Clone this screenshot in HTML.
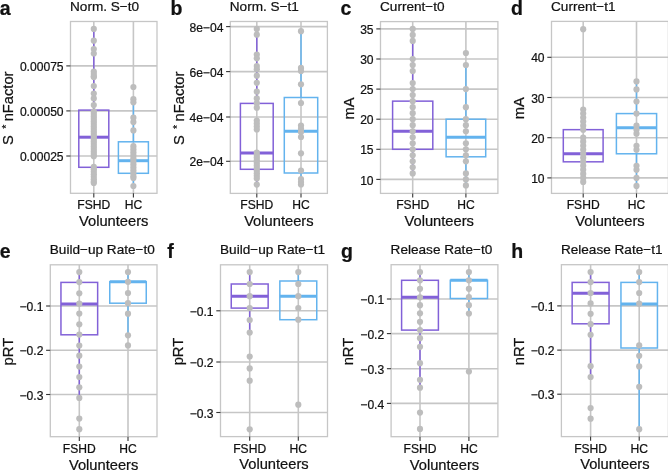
<!DOCTYPE html>
<html><head><meta charset="utf-8"><title>Figure</title>
<style>
html,body{margin:0;padding:0;background:#fff;}
body{width:668px;height:470px;overflow:hidden;}
svg{display:block;filter:blur(0.3px);}
text{font-family:"Liberation Sans",sans-serif;fill:#111111;stroke:#111;stroke-width:0.22px;}
circle{fill:#bdbdbd;}
</style></head><body>
<svg width="668" height="470" viewBox="0 0 668 470">
<rect width="668" height="470" fill="#fff"/>
<line x1="70.5" y1="65.9" x2="157" y2="65.9" stroke="#c6c6c6" stroke-width="1.6"/>
<line x1="70.5" y1="110.9" x2="157" y2="110.9" stroke="#c6c6c6" stroke-width="1.6"/>
<line x1="70.5" y1="156" x2="157" y2="156" stroke="#c6c6c6" stroke-width="1.6"/>
<line x1="93.8" y1="21.5" x2="93.8" y2="193.3" stroke="#c6c6c6" stroke-width="1.6"/>
<line x1="133.4" y1="21.5" x2="133.4" y2="193.3" stroke="#c6c6c6" stroke-width="1.6"/>
<line x1="93.8" y1="28.9" x2="93.8" y2="110.1" stroke="#8261d8" stroke-width="1.5"/>
<line x1="93.8" y1="167.3" x2="93.8" y2="183" stroke="#8261d8" stroke-width="1.5"/>
<rect x="78.8" y="110.1" width="30" height="57.2" fill="none" stroke="#8261d8" stroke-width="1.5"/>
<line x1="78.8" y1="137.2" x2="108.8" y2="137.2" stroke="#8261d8" stroke-width="3.0"/>
<line x1="133.4" y1="102.3" x2="133.4" y2="141.8" stroke="#63b3ee" stroke-width="1.5"/>
<line x1="133.4" y1="173.3" x2="133.4" y2="186" stroke="#63b3ee" stroke-width="1.5"/>
<rect x="118.4" y="141.8" width="30" height="31.5" fill="none" stroke="#63b3ee" stroke-width="1.5"/>
<line x1="118.4" y1="160.7" x2="148.4" y2="160.7" stroke="#63b3ee" stroke-width="3.0"/>
<circle cx="93.8" cy="28.9" r="3.1"/>
<circle cx="93.8" cy="40.7" r="3.1"/>
<circle cx="93.8" cy="49.1" r="3.1"/>
<circle cx="93.8" cy="53.5" r="3.1"/>
<circle cx="93.8" cy="71.5" r="3.1"/>
<circle cx="93.8" cy="74" r="3.1"/>
<circle cx="93.8" cy="76.5" r="3.1"/>
<circle cx="93.8" cy="77" r="3.1"/>
<circle cx="93.8" cy="86" r="3.1"/>
<circle cx="93.8" cy="93.6" r="3.1"/>
<circle cx="93.8" cy="98.4" r="3.1"/>
<circle cx="93.8" cy="105.1" r="3.1"/>
<circle cx="93.8" cy="111.4" r="3.1"/>
<circle cx="93.8" cy="113.9" r="3.1"/>
<circle cx="93.8" cy="116.4" r="3.1"/>
<circle cx="93.8" cy="118.9" r="3.1"/>
<circle cx="93.8" cy="121.4" r="3.1"/>
<circle cx="93.8" cy="123.9" r="3.1"/>
<circle cx="93.8" cy="126.4" r="3.1"/>
<circle cx="93.8" cy="128.9" r="3.1"/>
<circle cx="93.8" cy="131.4" r="3.1"/>
<circle cx="93.8" cy="133.9" r="3.1"/>
<circle cx="93.8" cy="136.4" r="3.1"/>
<circle cx="93.8" cy="138.9" r="3.1"/>
<circle cx="93.8" cy="141.4" r="3.1"/>
<circle cx="93.8" cy="143.9" r="3.1"/>
<circle cx="93.8" cy="146.4" r="3.1"/>
<circle cx="93.8" cy="148.9" r="3.1"/>
<circle cx="93.8" cy="151.4" r="3.1"/>
<circle cx="93.8" cy="153.9" r="3.1"/>
<circle cx="93.8" cy="156.2" r="3.1"/>
<circle cx="93.8" cy="166.8" r="3.1"/>
<circle cx="93.8" cy="169.3" r="3.1"/>
<circle cx="93.8" cy="171.8" r="3.1"/>
<circle cx="93.8" cy="174.3" r="3.1"/>
<circle cx="93.8" cy="176.8" r="3.1"/>
<circle cx="93.8" cy="179.3" r="3.1"/>
<circle cx="93.8" cy="181.8" r="3.1"/>
<circle cx="93.8" cy="183" r="3.1"/>
<circle cx="133.4" cy="87" r="3.1"/>
<circle cx="133.4" cy="99.2" r="3.1"/>
<circle cx="133.4" cy="102.3" r="3.1"/>
<circle cx="133.4" cy="117.7" r="3.1"/>
<circle cx="133.4" cy="122.1" r="3.1"/>
<circle cx="133.4" cy="130.4" r="3.1"/>
<circle cx="133.4" cy="146.2" r="3.1"/>
<circle cx="133.4" cy="149.2" r="3.1"/>
<circle cx="133.4" cy="152.2" r="3.1"/>
<circle cx="133.4" cy="155.2" r="3.1"/>
<circle cx="133.4" cy="158.2" r="3.1"/>
<circle cx="133.4" cy="161.2" r="3.1"/>
<circle cx="133.4" cy="164.2" r="3.1"/>
<circle cx="133.4" cy="167.2" r="3.1"/>
<circle cx="133.4" cy="170.2" r="3.1"/>
<circle cx="133.4" cy="173.2" r="3.1"/>
<circle cx="133.4" cy="176.2" r="3.1"/>
<circle cx="133.4" cy="178" r="3.1"/>
<circle cx="133.4" cy="186" r="3.1"/>
<rect x="70.5" y="21.5" width="86.5" height="171.8" fill="none" stroke="#c6c6c6" stroke-width="1.3"/>
<line x1="66.3" y1="65.9" x2="70.5" y2="65.9" stroke="#333333" stroke-width="1.1"/>
<line x1="66.3" y1="110.9" x2="70.5" y2="110.9" stroke="#333333" stroke-width="1.1"/>
<line x1="66.3" y1="156" x2="70.5" y2="156" stroke="#333333" stroke-width="1.1"/>
<line x1="93.8" y1="193.3" x2="93.8" y2="197.5" stroke="#333333" stroke-width="1.1"/>
<line x1="133.4" y1="193.3" x2="133.4" y2="197.5" stroke="#333333" stroke-width="1.1"/>
<text x="63.6" y="71" text-anchor="end" font-size="12.1">0.00075</text>
<text x="63.6" y="116" text-anchor="end" font-size="12.1">0.00050</text>
<text x="63.6" y="161.1" text-anchor="end" font-size="12.1">0.00025</text>
<text x="93.8" y="209.3" text-anchor="middle" font-size="12.1">FSHD</text>
<text x="133.4" y="209.3" text-anchor="middle" font-size="12.1">HC</text>
<text x="113.75" y="226.1" text-anchor="middle" font-size="14.7">Volunteers</text>
<text transform="translate(12.8 108.3) rotate(-90)" text-anchor="middle" font-size="14.7">S <tspan font-size="10.58" dx="2.3" dy="-3.2">*</tspan><tspan dx="-0.7" dy="3.2"> nFactor</tspan></text>
<text x="70" y="10.7" font-size="13.6">Norm. S−t0</text>
<text x="-0.3" y="14.7" font-size="19.5" font-weight="bold">a</text>
<line x1="230.3" y1="26.6" x2="327.4" y2="26.6" stroke="#c6c6c6" stroke-width="1.6"/>
<line x1="230.3" y1="71.6" x2="327.4" y2="71.6" stroke="#c6c6c6" stroke-width="1.6"/>
<line x1="230.3" y1="117" x2="327.4" y2="117" stroke="#c6c6c6" stroke-width="1.6"/>
<line x1="230.3" y1="161.3" x2="327.4" y2="161.3" stroke="#c6c6c6" stroke-width="1.6"/>
<line x1="256.8" y1="21.5" x2="256.8" y2="193.4" stroke="#c6c6c6" stroke-width="1.6"/>
<line x1="301" y1="21.5" x2="301" y2="193.4" stroke="#c6c6c6" stroke-width="1.6"/>
<line x1="256.8" y1="28.9" x2="256.8" y2="103.4" stroke="#8261d8" stroke-width="1.5"/>
<line x1="256.8" y1="169.3" x2="256.8" y2="184.6" stroke="#8261d8" stroke-width="1.5"/>
<rect x="240.4" y="103.4" width="32.8" height="65.9" fill="none" stroke="#8261d8" stroke-width="1.5"/>
<line x1="240.4" y1="153" x2="273.2" y2="153" stroke="#8261d8" stroke-width="3.0"/>
<line x1="301" y1="31.2" x2="301" y2="97.5" stroke="#63b3ee" stroke-width="1.5"/>
<line x1="301" y1="173" x2="301" y2="184.5" stroke="#63b3ee" stroke-width="1.5"/>
<rect x="284.3" y="97.5" width="33.4" height="75.5" fill="none" stroke="#63b3ee" stroke-width="1.5"/>
<line x1="284.3" y1="131.3" x2="317.7" y2="131.3" stroke="#63b3ee" stroke-width="3.0"/>
<circle cx="256.8" cy="28.9" r="3.1"/>
<circle cx="256.8" cy="34.7" r="3.1"/>
<circle cx="256.8" cy="54.5" r="3.1"/>
<circle cx="256.8" cy="58.3" r="3.1"/>
<circle cx="256.8" cy="66" r="3.1"/>
<circle cx="256.8" cy="69.2" r="3.1"/>
<circle cx="256.8" cy="75.7" r="3.1"/>
<circle cx="256.8" cy="82.8" r="3.1"/>
<circle cx="256.8" cy="91.7" r="3.1"/>
<circle cx="256.8" cy="98.4" r="3.1"/>
<circle cx="256.8" cy="103.2" r="3.1"/>
<circle cx="256.8" cy="107.7" r="3.1"/>
<circle cx="256.8" cy="120.5" r="3.1"/>
<circle cx="256.8" cy="123.5" r="3.1"/>
<circle cx="256.8" cy="126.5" r="3.1"/>
<circle cx="256.8" cy="129.5" r="3.1"/>
<circle cx="256.8" cy="152.6" r="3.1"/>
<circle cx="256.8" cy="155" r="3.1"/>
<circle cx="256.8" cy="157.6" r="3.1"/>
<circle cx="256.8" cy="160.2" r="3.1"/>
<circle cx="256.8" cy="162.8" r="3.1"/>
<circle cx="256.8" cy="165.4" r="3.1"/>
<circle cx="256.8" cy="168" r="3.1"/>
<circle cx="256.8" cy="170.6" r="3.1"/>
<circle cx="256.8" cy="173.2" r="3.1"/>
<circle cx="256.8" cy="175.8" r="3.1"/>
<circle cx="256.8" cy="178.4" r="3.1"/>
<circle cx="256.8" cy="184.6" r="3.1"/>
<circle cx="301" cy="31.2" r="3.1"/>
<circle cx="301" cy="67.9" r="3.1"/>
<circle cx="301" cy="70.9" r="3.1"/>
<circle cx="301" cy="84.3" r="3.1"/>
<circle cx="301" cy="103" r="3.1"/>
<circle cx="301" cy="125.6" r="3.1"/>
<circle cx="301" cy="128.7" r="3.1"/>
<circle cx="301" cy="132" r="3.1"/>
<circle cx="301" cy="137" r="3.1"/>
<circle cx="301" cy="153.3" r="3.1"/>
<circle cx="301" cy="170.5" r="3.1"/>
<circle cx="301" cy="179" r="3.1"/>
<circle cx="301" cy="182" r="3.1"/>
<circle cx="301" cy="184.5" r="3.1"/>
<rect x="230.3" y="21.5" width="97.1" height="171.9" fill="none" stroke="#c6c6c6" stroke-width="1.3"/>
<line x1="226.1" y1="26.6" x2="230.3" y2="26.6" stroke="#333333" stroke-width="1.1"/>
<line x1="226.1" y1="71.6" x2="230.3" y2="71.6" stroke="#333333" stroke-width="1.1"/>
<line x1="226.1" y1="117" x2="230.3" y2="117" stroke="#333333" stroke-width="1.1"/>
<line x1="226.1" y1="161.3" x2="230.3" y2="161.3" stroke="#333333" stroke-width="1.1"/>
<line x1="256.8" y1="193.4" x2="256.8" y2="197.6" stroke="#333333" stroke-width="1.1"/>
<line x1="301" y1="193.4" x2="301" y2="197.6" stroke="#333333" stroke-width="1.1"/>
<text x="223.4" y="31.7" text-anchor="end" font-size="12.1">8e−04</text>
<text x="223.4" y="76.7" text-anchor="end" font-size="12.1">6e−04</text>
<text x="223.4" y="122.1" text-anchor="end" font-size="12.1">4e−04</text>
<text x="223.4" y="166.4" text-anchor="end" font-size="12.1">2e−04</text>
<text x="256.8" y="209.4" text-anchor="middle" font-size="12.1">FSHD</text>
<text x="301" y="209.4" text-anchor="middle" font-size="12.1">HC</text>
<text x="278.85" y="226.2" text-anchor="middle" font-size="14.7">Volunteers</text>
<text transform="translate(183.7 108.35) rotate(-90)" text-anchor="middle" font-size="14.7">S <tspan font-size="10.58" dx="2.3" dy="-3.2">*</tspan><tspan dx="-0.7" dy="3.2"> nFactor</tspan></text>
<text x="229.8" y="10.7" font-size="13.6">Norm. S−t1</text>
<text x="170.4" y="14.7" font-size="19.5" font-weight="bold">b</text>
<line x1="380.5" y1="28.9" x2="497.9" y2="28.9" stroke="#c6c6c6" stroke-width="1.6"/>
<line x1="380.5" y1="59" x2="497.9" y2="59" stroke="#c6c6c6" stroke-width="1.6"/>
<line x1="380.5" y1="89.1" x2="497.9" y2="89.1" stroke="#c6c6c6" stroke-width="1.6"/>
<line x1="380.5" y1="119.2" x2="497.9" y2="119.2" stroke="#c6c6c6" stroke-width="1.6"/>
<line x1="380.5" y1="149.3" x2="497.9" y2="149.3" stroke="#c6c6c6" stroke-width="1.6"/>
<line x1="380.5" y1="179.4" x2="497.9" y2="179.4" stroke="#c6c6c6" stroke-width="1.6"/>
<line x1="412.7" y1="21.6" x2="412.7" y2="193.4" stroke="#c6c6c6" stroke-width="1.6"/>
<line x1="465.9" y1="21.6" x2="465.9" y2="193.4" stroke="#c6c6c6" stroke-width="1.6"/>
<line x1="412.7" y1="28.9" x2="412.7" y2="101.14" stroke="#8261d8" stroke-width="1.5"/>
<line x1="412.7" y1="149.3" x2="412.7" y2="173.38" stroke="#8261d8" stroke-width="1.5"/>
<rect x="392.6" y="101.14" width="40.2" height="48.16" fill="none" stroke="#8261d8" stroke-width="1.5"/>
<line x1="392.6" y1="131.24" x2="432.8" y2="131.24" stroke="#8261d8" stroke-width="3.0"/>
<line x1="465.9" y1="65.02" x2="465.9" y2="119.2" stroke="#63b3ee" stroke-width="1.5"/>
<line x1="465.9" y1="156.8" x2="465.9" y2="185.42" stroke="#63b3ee" stroke-width="1.5"/>
<rect x="446.1" y="119.2" width="39.6" height="37.6" fill="none" stroke="#63b3ee" stroke-width="1.5"/>
<line x1="446.1" y1="137.26" x2="485.7" y2="137.26" stroke="#63b3ee" stroke-width="3.0"/>
<circle cx="412.7" cy="28.9" r="3.1"/>
<circle cx="412.7" cy="34.92" r="3.1"/>
<circle cx="412.7" cy="40.94" r="3.1"/>
<circle cx="412.7" cy="59" r="3.1"/>
<circle cx="412.7" cy="65.02" r="3.1"/>
<circle cx="412.7" cy="71.04" r="3.1"/>
<circle cx="412.7" cy="83.08" r="3.1"/>
<circle cx="412.7" cy="89.1" r="3.1"/>
<circle cx="412.7" cy="95.12" r="3.1"/>
<circle cx="412.7" cy="101.14" r="3.1"/>
<circle cx="412.7" cy="107.16" r="3.1"/>
<circle cx="412.7" cy="113.18" r="3.1"/>
<circle cx="412.7" cy="119.2" r="3.1"/>
<circle cx="412.7" cy="125.22" r="3.1"/>
<circle cx="412.7" cy="131.24" r="3.1"/>
<circle cx="412.7" cy="137.26" r="3.1"/>
<circle cx="412.7" cy="143.28" r="3.1"/>
<circle cx="412.7" cy="149.3" r="3.1"/>
<circle cx="412.7" cy="155.32" r="3.1"/>
<circle cx="412.7" cy="161.34" r="3.1"/>
<circle cx="412.7" cy="167.36" r="3.1"/>
<circle cx="412.7" cy="173.38" r="3.1"/>
<circle cx="465.9" cy="52.98" r="3.1"/>
<circle cx="465.9" cy="65.02" r="3.1"/>
<circle cx="465.9" cy="89.1" r="3.1"/>
<circle cx="465.9" cy="107.16" r="3.1"/>
<circle cx="465.9" cy="119.2" r="3.1"/>
<circle cx="465.9" cy="125.22" r="3.1"/>
<circle cx="465.9" cy="131.24" r="3.1"/>
<circle cx="465.9" cy="143.28" r="3.1"/>
<circle cx="465.9" cy="149.3" r="3.1"/>
<circle cx="465.9" cy="155.32" r="3.1"/>
<circle cx="465.9" cy="161.34" r="3.1"/>
<circle cx="465.9" cy="173.38" r="3.1"/>
<circle cx="465.9" cy="179.4" r="3.1"/>
<circle cx="465.9" cy="185.42" r="3.1"/>
<rect x="380.5" y="21.6" width="117.4" height="171.8" fill="none" stroke="#c6c6c6" stroke-width="1.3"/>
<line x1="376.3" y1="28.9" x2="380.5" y2="28.9" stroke="#333333" stroke-width="1.1"/>
<line x1="376.3" y1="59" x2="380.5" y2="59" stroke="#333333" stroke-width="1.1"/>
<line x1="376.3" y1="89.1" x2="380.5" y2="89.1" stroke="#333333" stroke-width="1.1"/>
<line x1="376.3" y1="119.2" x2="380.5" y2="119.2" stroke="#333333" stroke-width="1.1"/>
<line x1="376.3" y1="149.3" x2="380.5" y2="149.3" stroke="#333333" stroke-width="1.1"/>
<line x1="376.3" y1="179.4" x2="380.5" y2="179.4" stroke="#333333" stroke-width="1.1"/>
<line x1="412.7" y1="193.4" x2="412.7" y2="197.6" stroke="#333333" stroke-width="1.1"/>
<line x1="465.9" y1="193.4" x2="465.9" y2="197.6" stroke="#333333" stroke-width="1.1"/>
<text x="373.6" y="34" text-anchor="end" font-size="12.1">35</text>
<text x="373.6" y="64.1" text-anchor="end" font-size="12.1">30</text>
<text x="373.6" y="94.2" text-anchor="end" font-size="12.1">25</text>
<text x="373.6" y="124.3" text-anchor="end" font-size="12.1">20</text>
<text x="373.6" y="154.4" text-anchor="end" font-size="12.1">15</text>
<text x="373.6" y="184.5" text-anchor="end" font-size="12.1">10</text>
<text x="412.7" y="209.4" text-anchor="middle" font-size="12.1">FSHD</text>
<text x="465.9" y="209.4" text-anchor="middle" font-size="12.1">HC</text>
<text x="439.2" y="226.2" text-anchor="middle" font-size="14.7">Volunteers</text>
<text transform="translate(353.8 108.4) rotate(-90)" text-anchor="middle" font-size="14.7">mA</text>
<text x="380" y="10.8" font-size="13.6">Current−t0</text>
<text x="340.5" y="14.7" font-size="19.5" font-weight="bold">c</text>
<line x1="551.5" y1="57.3" x2="668.4" y2="57.3" stroke="#c6c6c6" stroke-width="1.6"/>
<line x1="551.5" y1="97.5" x2="668.4" y2="97.5" stroke="#c6c6c6" stroke-width="1.6"/>
<line x1="551.5" y1="137.7" x2="668.4" y2="137.7" stroke="#c6c6c6" stroke-width="1.6"/>
<line x1="551.5" y1="177.9" x2="668.4" y2="177.9" stroke="#c6c6c6" stroke-width="1.6"/>
<line x1="583.2" y1="21.4" x2="583.2" y2="193.4" stroke="#c6c6c6" stroke-width="1.6"/>
<line x1="636.5" y1="21.4" x2="636.5" y2="193.4" stroke="#c6c6c6" stroke-width="1.6"/>
<line x1="583.2" y1="109.56" x2="583.2" y2="129.66" stroke="#8261d8" stroke-width="1.5"/>
<line x1="583.2" y1="161.82" x2="583.2" y2="181.92" stroke="#8261d8" stroke-width="1.5"/>
<rect x="563.3" y="129.66" width="39.8" height="32.16" fill="none" stroke="#8261d8" stroke-width="1.5"/>
<line x1="563.3" y1="153.78" x2="603.1" y2="153.78" stroke="#8261d8" stroke-width="3.0"/>
<line x1="636.5" y1="81.42" x2="636.5" y2="113.58" stroke="#63b3ee" stroke-width="1.5"/>
<line x1="636.5" y1="153.78" x2="636.5" y2="185.94" stroke="#63b3ee" stroke-width="1.5"/>
<rect x="616.4" y="113.58" width="40.2" height="40.2" fill="none" stroke="#63b3ee" stroke-width="1.5"/>
<line x1="616.4" y1="127.65" x2="656.6" y2="127.65" stroke="#63b3ee" stroke-width="3.0"/>
<circle cx="583.2" cy="29.16" r="3.1"/>
<circle cx="583.2" cy="109.56" r="3.1"/>
<circle cx="583.2" cy="113.58" r="3.1"/>
<circle cx="583.2" cy="117.6" r="3.1"/>
<circle cx="583.2" cy="121.62" r="3.1"/>
<circle cx="583.2" cy="125.64" r="3.1"/>
<circle cx="583.2" cy="129.66" r="3.1"/>
<circle cx="583.2" cy="137.7" r="3.1"/>
<circle cx="583.2" cy="141.72" r="3.1"/>
<circle cx="583.2" cy="145.74" r="3.1"/>
<circle cx="583.2" cy="149.76" r="3.1"/>
<circle cx="583.2" cy="153.78" r="3.1"/>
<circle cx="583.2" cy="157.8" r="3.1"/>
<circle cx="583.2" cy="161.82" r="3.1"/>
<circle cx="583.2" cy="165.84" r="3.1"/>
<circle cx="583.2" cy="169.86" r="3.1"/>
<circle cx="583.2" cy="173.88" r="3.1"/>
<circle cx="583.2" cy="177.9" r="3.1"/>
<circle cx="583.2" cy="181.92" r="3.1"/>
<circle cx="636.5" cy="81.42" r="3.1"/>
<circle cx="636.5" cy="89.46" r="3.1"/>
<circle cx="636.5" cy="101.52" r="3.1"/>
<circle cx="636.5" cy="113.58" r="3.1"/>
<circle cx="636.5" cy="125.64" r="3.1"/>
<circle cx="636.5" cy="129.66" r="3.1"/>
<circle cx="636.5" cy="133.68" r="3.1"/>
<circle cx="636.5" cy="145.74" r="3.1"/>
<circle cx="636.5" cy="149.76" r="3.1"/>
<circle cx="636.5" cy="165.84" r="3.1"/>
<circle cx="636.5" cy="169.86" r="3.1"/>
<circle cx="636.5" cy="177.9" r="3.1"/>
<circle cx="636.5" cy="185.94" r="3.1"/>
<rect x="551.5" y="21.4" width="116.9" height="172" fill="none" stroke="#c6c6c6" stroke-width="1.3"/>
<line x1="547.3" y1="57.3" x2="551.5" y2="57.3" stroke="#333333" stroke-width="1.1"/>
<line x1="547.3" y1="97.5" x2="551.5" y2="97.5" stroke="#333333" stroke-width="1.1"/>
<line x1="547.3" y1="137.7" x2="551.5" y2="137.7" stroke="#333333" stroke-width="1.1"/>
<line x1="547.3" y1="177.9" x2="551.5" y2="177.9" stroke="#333333" stroke-width="1.1"/>
<line x1="583.2" y1="193.4" x2="583.2" y2="197.6" stroke="#333333" stroke-width="1.1"/>
<line x1="636.5" y1="193.4" x2="636.5" y2="197.6" stroke="#333333" stroke-width="1.1"/>
<text x="544.6" y="62.4" text-anchor="end" font-size="12.1">40</text>
<text x="544.6" y="102.6" text-anchor="end" font-size="12.1">30</text>
<text x="544.6" y="142.8" text-anchor="end" font-size="12.1">20</text>
<text x="544.6" y="183" text-anchor="end" font-size="12.1">10</text>
<text x="583.2" y="209.4" text-anchor="middle" font-size="12.1">FSHD</text>
<text x="636.5" y="209.4" text-anchor="middle" font-size="12.1">HC</text>
<text x="609.95" y="226.2" text-anchor="middle" font-size="14.7">Volunteers</text>
<text transform="translate(524 108.3) rotate(-90)" text-anchor="middle" font-size="14.7">mA</text>
<text x="551" y="10.6" font-size="13.6">Current−t1</text>
<text x="510.9" y="14.7" font-size="19.5" font-weight="bold">d</text>
<line x1="50.3" y1="306" x2="157" y2="306" stroke="#c6c6c6" stroke-width="1.6"/>
<line x1="50.3" y1="350.3" x2="157" y2="350.3" stroke="#c6c6c6" stroke-width="1.6"/>
<line x1="50.3" y1="394.5" x2="157" y2="394.5" stroke="#c6c6c6" stroke-width="1.6"/>
<line x1="79.3" y1="264.8" x2="79.3" y2="436.7" stroke="#c6c6c6" stroke-width="1.6"/>
<line x1="128" y1="264.8" x2="128" y2="436.7" stroke="#c6c6c6" stroke-width="1.6"/>
<line x1="79.3" y1="272.1" x2="79.3" y2="282.4" stroke="#8261d8" stroke-width="1.5"/>
<line x1="79.3" y1="334.8" x2="79.3" y2="397.9" stroke="#8261d8" stroke-width="1.5"/>
<rect x="60.95" y="282.4" width="36.7" height="52.4" fill="none" stroke="#8261d8" stroke-width="1.5"/>
<line x1="60.95" y1="304" x2="97.65" y2="304" stroke="#8261d8" stroke-width="3.0"/>
<line x1="128" y1="272.1" x2="128" y2="281.8" stroke="#63b3ee" stroke-width="1.5"/>
<line x1="128" y1="303.2" x2="128" y2="335.3" stroke="#63b3ee" stroke-width="1.5"/>
<rect x="109.75" y="281.8" width="36.5" height="21.4" fill="none" stroke="#63b3ee" stroke-width="1.5"/>
<line x1="109.75" y1="281.8" x2="146.25" y2="281.8" stroke="#63b3ee" stroke-width="3.0"/>
<circle cx="79.3" cy="272.1" r="3.1"/>
<circle cx="79.3" cy="282.1" r="3.1"/>
<circle cx="79.3" cy="293.3" r="3.1"/>
<circle cx="79.3" cy="303.7" r="3.1"/>
<circle cx="79.3" cy="313.6" r="3.1"/>
<circle cx="79.3" cy="324.3" r="3.1"/>
<circle cx="79.3" cy="334.6" r="3.1"/>
<circle cx="79.3" cy="345.6" r="3.1"/>
<circle cx="79.3" cy="355.7" r="3.1"/>
<circle cx="79.3" cy="366.6" r="3.1"/>
<circle cx="79.3" cy="377" r="3.1"/>
<circle cx="79.3" cy="387.3" r="3.1"/>
<circle cx="79.3" cy="397.9" r="3.1"/>
<circle cx="79.3" cy="418.6" r="3.1"/>
<circle cx="79.3" cy="429.2" r="3.1"/>
<circle cx="128" cy="272.1" r="3.1"/>
<circle cx="128" cy="281.8" r="3.1"/>
<circle cx="128" cy="293" r="3.1"/>
<circle cx="128" cy="303.2" r="3.1"/>
<circle cx="128" cy="313.7" r="3.1"/>
<circle cx="128" cy="335.3" r="3.1"/>
<circle cx="128" cy="345.4" r="3.1"/>
<rect x="50.3" y="264.8" width="106.7" height="171.9" fill="none" stroke="#c6c6c6" stroke-width="1.3"/>
<line x1="46.1" y1="306" x2="50.3" y2="306" stroke="#333333" stroke-width="1.1"/>
<line x1="46.1" y1="350.3" x2="50.3" y2="350.3" stroke="#333333" stroke-width="1.1"/>
<line x1="46.1" y1="394.5" x2="50.3" y2="394.5" stroke="#333333" stroke-width="1.1"/>
<line x1="79.3" y1="436.7" x2="79.3" y2="440.9" stroke="#333333" stroke-width="1.1"/>
<line x1="128" y1="436.7" x2="128" y2="440.9" stroke="#333333" stroke-width="1.1"/>
<text x="43.4" y="311.1" text-anchor="end" font-size="12.1">−0.1</text>
<text x="43.4" y="355.4" text-anchor="end" font-size="12.1">−0.2</text>
<text x="43.4" y="399.6" text-anchor="end" font-size="12.1">−0.3</text>
<text x="79.3" y="452.7" text-anchor="middle" font-size="12.1">FSHD</text>
<text x="128" y="452.7" text-anchor="middle" font-size="12.1">HC</text>
<text x="103.65" y="469.5" text-anchor="middle" font-size="14.7">Volunteers</text>
<text transform="translate(12.5 351.65) rotate(-90)" text-anchor="middle" font-size="14.7">pRT</text>
<text x="49.8" y="254" font-size="13.6">Build−up Rate−t0</text>
<text x="-0.3" y="258.1" font-size="19.5" font-weight="bold">e</text>
<line x1="220.5" y1="310.8" x2="327.5" y2="310.8" stroke="#c6c6c6" stroke-width="1.6"/>
<line x1="220.5" y1="362" x2="327.5" y2="362" stroke="#c6c6c6" stroke-width="1.6"/>
<line x1="220.5" y1="412.5" x2="327.5" y2="412.5" stroke="#c6c6c6" stroke-width="1.6"/>
<line x1="249.7" y1="264.8" x2="249.7" y2="436.6" stroke="#c6c6c6" stroke-width="1.6"/>
<line x1="298.3" y1="264.8" x2="298.3" y2="436.6" stroke="#c6c6c6" stroke-width="1.6"/>
<line x1="249.7" y1="272.1" x2="249.7" y2="284" stroke="#8261d8" stroke-width="1.5"/>
<line x1="249.7" y1="308.1" x2="249.7" y2="332.6" stroke="#8261d8" stroke-width="1.5"/>
<rect x="231.25" y="284" width="36.9" height="24.1" fill="none" stroke="#8261d8" stroke-width="1.5"/>
<line x1="231.25" y1="296.2" x2="268.15" y2="296.2" stroke="#8261d8" stroke-width="3.0"/>
<line x1="298.3" y1="272.1" x2="298.3" y2="281" stroke="#63b3ee" stroke-width="1.5"/>
<rect x="279.85" y="281" width="36.9" height="38.7" fill="none" stroke="#63b3ee" stroke-width="1.5"/>
<line x1="279.85" y1="296.2" x2="316.75" y2="296.2" stroke="#63b3ee" stroke-width="3.0"/>
<circle cx="249.7" cy="272.1" r="3.1"/>
<circle cx="249.7" cy="284" r="3.1"/>
<circle cx="249.7" cy="296.2" r="3.1"/>
<circle cx="249.7" cy="308.1" r="3.1"/>
<circle cx="249.7" cy="320" r="3.1"/>
<circle cx="249.7" cy="332.6" r="3.1"/>
<circle cx="249.7" cy="356.5" r="3.1"/>
<circle cx="249.7" cy="368.4" r="3.1"/>
<circle cx="249.7" cy="380.7" r="3.1"/>
<circle cx="249.7" cy="429.3" r="3.1"/>
<circle cx="298.3" cy="272.1" r="3.1"/>
<circle cx="298.3" cy="284" r="3.1"/>
<circle cx="298.3" cy="296.2" r="3.1"/>
<circle cx="298.3" cy="308.1" r="3.1"/>
<circle cx="298.3" cy="319.7" r="3.1"/>
<circle cx="298.3" cy="404.7" r="3.1"/>
<rect x="220.5" y="264.8" width="107" height="171.8" fill="none" stroke="#c6c6c6" stroke-width="1.3"/>
<line x1="216.3" y1="310.8" x2="220.5" y2="310.8" stroke="#333333" stroke-width="1.1"/>
<line x1="216.3" y1="362" x2="220.5" y2="362" stroke="#333333" stroke-width="1.1"/>
<line x1="216.3" y1="412.5" x2="220.5" y2="412.5" stroke="#333333" stroke-width="1.1"/>
<line x1="249.7" y1="436.6" x2="249.7" y2="440.8" stroke="#333333" stroke-width="1.1"/>
<line x1="298.3" y1="436.6" x2="298.3" y2="440.8" stroke="#333333" stroke-width="1.1"/>
<text x="213.6" y="315.9" text-anchor="end" font-size="12.1">−0.1</text>
<text x="213.6" y="367.1" text-anchor="end" font-size="12.1">−0.2</text>
<text x="213.6" y="417.6" text-anchor="end" font-size="12.1">−0.3</text>
<text x="249.7" y="452.6" text-anchor="middle" font-size="12.1">FSHD</text>
<text x="298.3" y="452.6" text-anchor="middle" font-size="12.1">HC</text>
<text x="274" y="469.4" text-anchor="middle" font-size="14.7">Volunteers</text>
<text transform="translate(183 351.6) rotate(-90)" text-anchor="middle" font-size="14.7">pRT</text>
<text x="220" y="254" font-size="13.6">Build−up Rate−t1</text>
<text x="167.2" y="257.9" font-size="19.5" font-weight="bold">f</text>
<line x1="391.1" y1="299" x2="497.9" y2="299" stroke="#c6c6c6" stroke-width="1.6"/>
<line x1="391.1" y1="333.6" x2="497.9" y2="333.6" stroke="#c6c6c6" stroke-width="1.6"/>
<line x1="391.1" y1="368.7" x2="497.9" y2="368.7" stroke="#c6c6c6" stroke-width="1.6"/>
<line x1="391.1" y1="403.4" x2="497.9" y2="403.4" stroke="#c6c6c6" stroke-width="1.6"/>
<line x1="420" y1="264.7" x2="420" y2="436.7" stroke="#c6c6c6" stroke-width="1.6"/>
<line x1="468.9" y1="264.7" x2="468.9" y2="436.7" stroke="#c6c6c6" stroke-width="1.6"/>
<line x1="420" y1="272.1" x2="420" y2="280.3" stroke="#8261d8" stroke-width="1.5"/>
<line x1="420" y1="330.1" x2="420" y2="387.7" stroke="#8261d8" stroke-width="1.5"/>
<rect x="401.6" y="280.3" width="36.8" height="49.8" fill="none" stroke="#8261d8" stroke-width="1.5"/>
<line x1="401.6" y1="297.3" x2="438.4" y2="297.3" stroke="#8261d8" stroke-width="3.0"/>
<line x1="468.9" y1="272.1" x2="468.9" y2="280.3" stroke="#63b3ee" stroke-width="1.5"/>
<line x1="468.9" y1="298.5" x2="468.9" y2="313.6" stroke="#63b3ee" stroke-width="1.5"/>
<rect x="450.3" y="280.3" width="37.2" height="18.2" fill="none" stroke="#63b3ee" stroke-width="1.5"/>
<line x1="450.3" y1="280.3" x2="487.5" y2="280.3" stroke="#63b3ee" stroke-width="3.0"/>
<circle cx="420" cy="272.1" r="3.1"/>
<circle cx="420" cy="280.3" r="3.1"/>
<circle cx="420" cy="288.8" r="3.1"/>
<circle cx="420" cy="297.3" r="3.1"/>
<circle cx="420" cy="305.2" r="3.1"/>
<circle cx="420" cy="313.3" r="3.1"/>
<circle cx="420" cy="321.8" r="3.1"/>
<circle cx="420" cy="330.1" r="3.1"/>
<circle cx="420" cy="338.2" r="3.1"/>
<circle cx="420" cy="346.8" r="3.1"/>
<circle cx="420" cy="363.2" r="3.1"/>
<circle cx="420" cy="379.8" r="3.1"/>
<circle cx="420" cy="387.7" r="3.1"/>
<circle cx="420" cy="412.6" r="3.1"/>
<circle cx="420" cy="428.9" r="3.1"/>
<circle cx="468.9" cy="272.1" r="3.1"/>
<circle cx="468.9" cy="280.3" r="3.1"/>
<circle cx="468.9" cy="288.8" r="3.1"/>
<circle cx="468.9" cy="297" r="3.1"/>
<circle cx="468.9" cy="305.2" r="3.1"/>
<circle cx="468.9" cy="313.6" r="3.1"/>
<circle cx="468.9" cy="371.5" r="3.1"/>
<rect x="391.1" y="264.7" width="106.8" height="172" fill="none" stroke="#c6c6c6" stroke-width="1.3"/>
<line x1="386.9" y1="299" x2="391.1" y2="299" stroke="#333333" stroke-width="1.1"/>
<line x1="386.9" y1="333.6" x2="391.1" y2="333.6" stroke="#333333" stroke-width="1.1"/>
<line x1="386.9" y1="368.7" x2="391.1" y2="368.7" stroke="#333333" stroke-width="1.1"/>
<line x1="386.9" y1="403.4" x2="391.1" y2="403.4" stroke="#333333" stroke-width="1.1"/>
<line x1="420" y1="436.7" x2="420" y2="440.9" stroke="#333333" stroke-width="1.1"/>
<line x1="468.9" y1="436.7" x2="468.9" y2="440.9" stroke="#333333" stroke-width="1.1"/>
<text x="384.2" y="304.1" text-anchor="end" font-size="12.1">−0.1</text>
<text x="384.2" y="338.7" text-anchor="end" font-size="12.1">−0.2</text>
<text x="384.2" y="373.8" text-anchor="end" font-size="12.1">−0.3</text>
<text x="384.2" y="408.5" text-anchor="end" font-size="12.1">−0.4</text>
<text x="420" y="452.7" text-anchor="middle" font-size="12.1">FSHD</text>
<text x="468.9" y="452.7" text-anchor="middle" font-size="12.1">HC</text>
<text x="444.5" y="469.5" text-anchor="middle" font-size="14.7">Volunteers</text>
<text transform="translate(353.2 351.6) rotate(-90)" text-anchor="middle" font-size="14.7">nRT</text>
<text x="390.6" y="253.9" font-size="13.6">Release Rate−t0</text>
<text x="340.9" y="258.1" font-size="19.5" font-weight="bold">g</text>
<line x1="561.4" y1="305.9" x2="668.4" y2="305.9" stroke="#c6c6c6" stroke-width="1.6"/>
<line x1="561.4" y1="350.1" x2="668.4" y2="350.1" stroke="#c6c6c6" stroke-width="1.6"/>
<line x1="561.4" y1="394.2" x2="668.4" y2="394.2" stroke="#c6c6c6" stroke-width="1.6"/>
<line x1="590.6" y1="264.7" x2="590.6" y2="436.6" stroke="#c6c6c6" stroke-width="1.6"/>
<line x1="639.2" y1="264.7" x2="639.2" y2="436.6" stroke="#c6c6c6" stroke-width="1.6"/>
<line x1="590.6" y1="272.1" x2="590.6" y2="282.4" stroke="#8261d8" stroke-width="1.5"/>
<line x1="590.6" y1="323.8" x2="590.6" y2="377" stroke="#8261d8" stroke-width="1.5"/>
<rect x="572.15" y="282.4" width="36.9" height="41.4" fill="none" stroke="#8261d8" stroke-width="1.5"/>
<line x1="572.15" y1="293.3" x2="609.05" y2="293.3" stroke="#8261d8" stroke-width="3.0"/>
<line x1="639.2" y1="272.1" x2="639.2" y2="282.4" stroke="#63b3ee" stroke-width="1.5"/>
<line x1="639.2" y1="348" x2="639.2" y2="429.2" stroke="#63b3ee" stroke-width="1.5"/>
<rect x="620.95" y="282.4" width="36.5" height="65.6" fill="none" stroke="#63b3ee" stroke-width="1.5"/>
<line x1="620.95" y1="304.1" x2="657.45" y2="304.1" stroke="#63b3ee" stroke-width="3.0"/>
<circle cx="590.6" cy="272.1" r="3.1"/>
<circle cx="590.6" cy="282.1" r="3.1"/>
<circle cx="590.6" cy="293" r="3.1"/>
<circle cx="590.6" cy="303.4" r="3.1"/>
<circle cx="590.6" cy="313.8" r="3.1"/>
<circle cx="590.6" cy="324.2" r="3.1"/>
<circle cx="590.6" cy="334.8" r="3.1"/>
<circle cx="590.6" cy="366.2" r="3.1"/>
<circle cx="590.6" cy="377" r="3.1"/>
<circle cx="590.6" cy="408.1" r="3.1"/>
<circle cx="590.6" cy="418.7" r="3.1"/>
<circle cx="639.2" cy="272.1" r="3.1"/>
<circle cx="639.2" cy="282.1" r="3.1"/>
<circle cx="639.2" cy="293" r="3.1"/>
<circle cx="639.2" cy="303.7" r="3.1"/>
<circle cx="639.2" cy="345.4" r="3.1"/>
<circle cx="639.2" cy="355.8" r="3.1"/>
<circle cx="639.2" cy="366.4" r="3.1"/>
<circle cx="639.2" cy="386.8" r="3.1"/>
<circle cx="639.2" cy="429.2" r="3.1"/>
<rect x="561.4" y="264.7" width="107" height="171.9" fill="none" stroke="#c6c6c6" stroke-width="1.3"/>
<line x1="557.2" y1="305.9" x2="561.4" y2="305.9" stroke="#333333" stroke-width="1.1"/>
<line x1="557.2" y1="350.1" x2="561.4" y2="350.1" stroke="#333333" stroke-width="1.1"/>
<line x1="557.2" y1="394.2" x2="561.4" y2="394.2" stroke="#333333" stroke-width="1.1"/>
<line x1="590.6" y1="436.6" x2="590.6" y2="440.8" stroke="#333333" stroke-width="1.1"/>
<line x1="639.2" y1="436.6" x2="639.2" y2="440.8" stroke="#333333" stroke-width="1.1"/>
<text x="554.5" y="311" text-anchor="end" font-size="12.1">−0.1</text>
<text x="554.5" y="355.2" text-anchor="end" font-size="12.1">−0.2</text>
<text x="554.5" y="399.3" text-anchor="end" font-size="12.1">−0.3</text>
<text x="590.6" y="452.6" text-anchor="middle" font-size="12.1">FSHD</text>
<text x="639.2" y="452.6" text-anchor="middle" font-size="12.1">HC</text>
<text x="614.9" y="469.4" text-anchor="middle" font-size="14.7">Volunteers</text>
<text transform="translate(523.7 351.55) rotate(-90)" text-anchor="middle" font-size="14.7">nRT</text>
<text x="560.9" y="253.9" font-size="13.6">Release Rate−t1</text>
<text x="511.2" y="258" font-size="19.5" font-weight="bold">h</text>
</svg>
</body></html>
